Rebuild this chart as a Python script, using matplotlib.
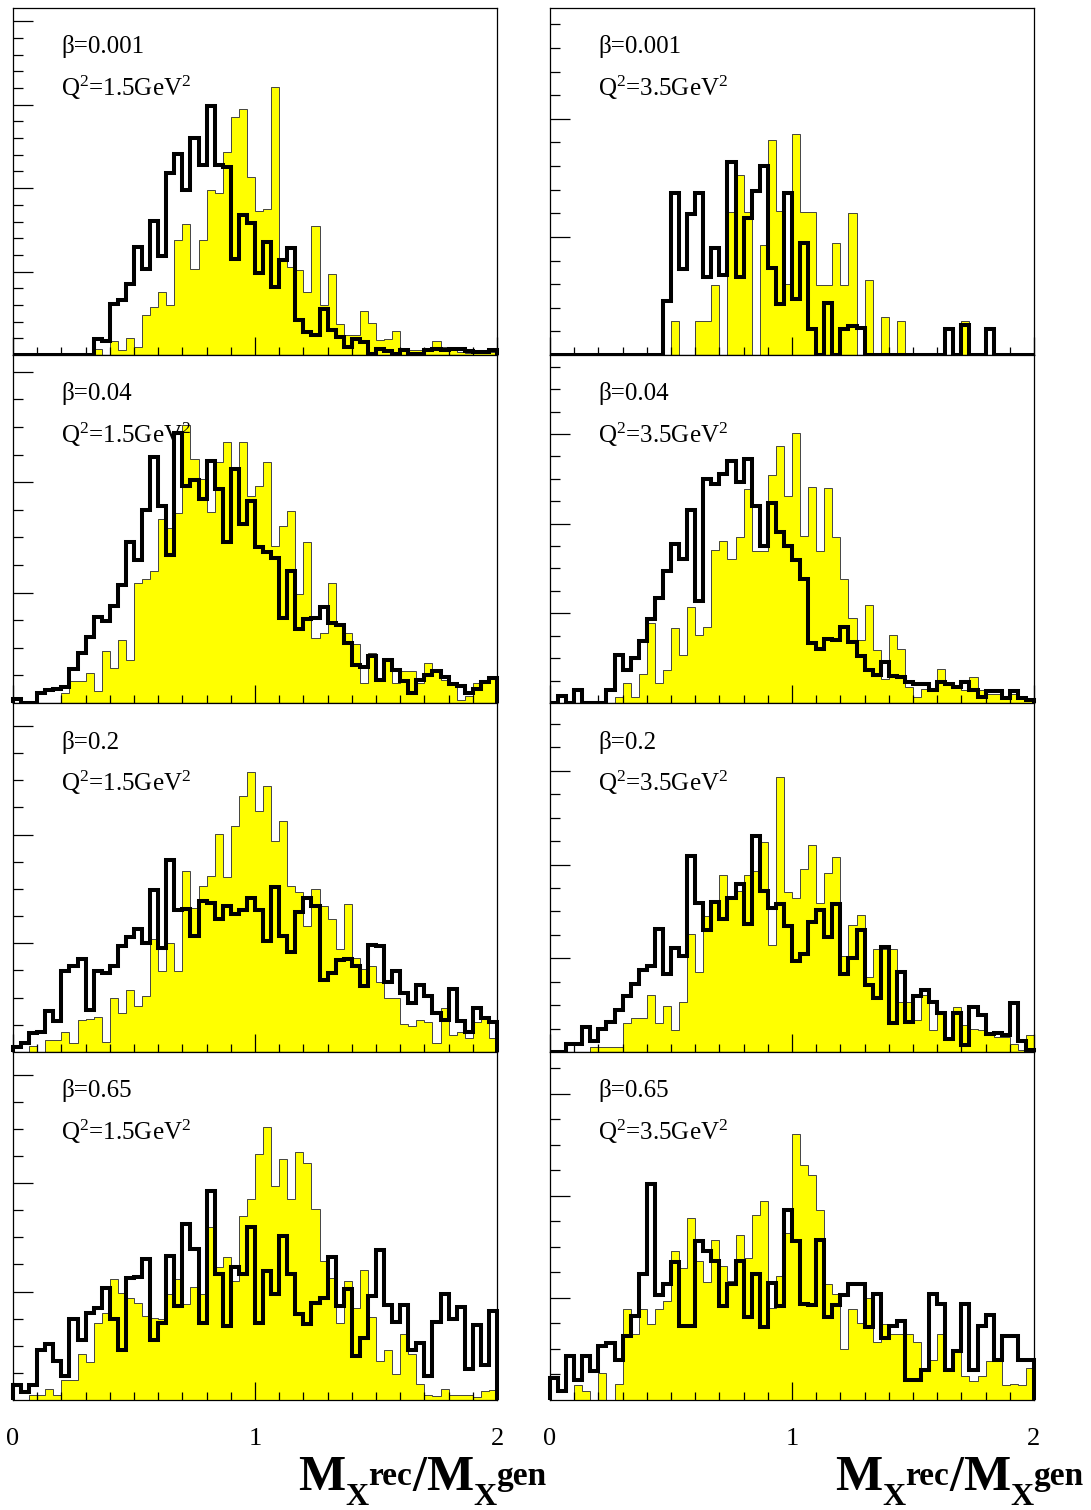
import numpy as np
import matplotlib.pyplot as plt

plt.rcParams['font.family'] = ['Liberation Serif', 'DejaVu Serif']
plt.rcParams['mathtext.fontset'] = 'custom'
plt.rcParams['mathtext.rm'] = 'Liberation Serif'
plt.rcParams['mathtext.it'] = 'Liberation Serif:italic'
plt.rcParams['mathtext.bf'] = 'Liberation Serif:bold'

# 60 bins of M_X(rec)/M_X(gen) between 0 and 2
edges = np.linspace(0, 2, 61)

betas = ['0.001', '0.04', '0.2', '0.65']
q2_values = ['1.5', '3.5']

# filled (yellow) and outlined (black) histograms, arbitrary units
yel_b0001_q15 = [0, 0, 0, 0, 0, 0, 0, 0, 0, 0,
                 1.9, 0, 4.2, 1.4, 5.2, 2.4, 11.9, 14.4, 18.9, 14.9,
                 34.6, 39.2, 25.7, 34.4, 49.6, 48.6, 60.9, 71.2, 73.6, 53.4,
                 43.1, 43.7, 80.4, 28.9, 26.4, 25.4, 18.9, 38.6, 14.9, 24.4,
                 9.2, 5.9, 6.1, 13.2, 9.6, 4.6, 4.9, 7.2, 1.9, 1.4,
                 1.4, 1.9, 4.2, 2.4, 1.4, 0.9, 0.6, 0.6, 0.6, 0.9]
blk_b0001_q15 = [0, 0, 0, 0, 0, 0, 0, 0, 0, 0,
                 4.9, 4.2, 15.4, 16.6, 21.2, 32.4, 25.9, 40.2, 29.6, 54.4,
                 60.1, 49.6, 65.1, 56.9, 74.6, 56.9, 56.4, 28.9, 41.9, 39.6,
                 24.6, 33.9, 20.4, 28.6, 32.2, 10.4, 6.9, 5.9, 13.9, 7.4,
                 5.4, 2.4, 4.9, 3.9, 0.4, 1.9, 1.2, 0.4, 1.4, 0.4,
                 0.4, 1.4, 1.9, 1.4, 1.9, 1.9, 1.2, 0.9, 0.9, 1.6]

yel_b0001_q35 = [0, 0, 0, 0, 0, 0, 0, 0, 0, 0,
                 0, 0, 0, 0, 0, 10.2, 0, 0, 10.2, 10.2,
                 21.0, 0, 43.0, 54.0, 43.0, 0, 33.0, 64.4, 43.2, 21.2,
                 66.2, 43.0, 43.0, 21.0, 21.0, 33.7, 21.0, 42.7, 0, 22.4,
                 0, 11.4, 0, 10.2, 0, 0, 0, 0, 0, 0,
                 0, 10.2, 0, 0, 0, 0, 0, 0, 0, 0]
blk_b0001_q35 = [0, 0, 0, 0, 0, 0, 0, 0, 0, 0,
                 0, 0, 0, 0, 16.2, 48.5, 25.7, 42.2, 48.5, 23.4,
                 32.2, 24.0, 57.9, 23.4, 41.0, 49.2, 56.5, 26.0, 15.4, 48.7,
                 16.7, 33.7, 7.7, 0, 15.7, 0, 7.7, 8.7, 8.2, 0,
                 0, 0, 0, 0, 0, 0, 0, 0, 0, 7.7,
                 0, 9.0, 0, 0, 7.7, 0, 0, 0, 0, 0]

yel_b004_q15 = [0, 0, 0, 0, 0, 0, 3.0, 6.5, 6.5, 9.0,
                3.5, 15.5, 10.5, 18.8, 13.0, 36.0, 37.0, 39.5, 55.0, 52.2,
                56.7, 83.0, 73.0, 67.0, 57.2, 72.0, 78.0, 70.0, 78.0, 62.0,
                65.0, 72.0, 47.0, 53.0, 57.5, 32.5, 48.0, 19.5, 21.0, 36.0,
                24.0, 21.0, 17.5, 6.0, 15.0, 7.0, 13.5, 6.0, 9.5, 9.5,
                6.0, 12.0, 10.0, 7.0, 6.0, 1.0, 2.0, 6.0, 6.5, 7.5]
blk_b004_q15 = [1.2, 0, 0, 3.0, 4.0, 4.2, 4.8, 10.2, 15.0, 19.8,
                25.7, 24.5, 29.0, 35.3, 48.0, 42.8, 57.8, 73.4, 59.0, 44.2,
                80.7, 64.8, 66.5, 61.0, 72.2, 64.0, 48.2, 70.0, 53.5, 60.5,
                46.5, 45.0, 43.2, 25.5, 39.5, 22.0, 25.2, 25.5, 28.8, 24.0,
                23.3, 18.0, 11.5, 10.8, 14.0, 7.0, 13.0, 10.0, 6.5, 3.0,
                7.0, 8.5, 9.5, 7.8, 5.7, 5.0, 3.0, 4.2, 6.3, 7.5]

yel_b004_q35 = [0, 0, 0, 0, 0, 0, 0, 0, 1.8, 6.0,
                1.8, 8.8, 23.8, 6.0, 10.0, 22.3, 14.3, 28.6, 20.3, 22.8,
                45.8, 48.3, 43.0, 49.6, 64.0, 45.3, 45.3, 68.0, 76.8, 62.0,
                80.6, 49.8, 64.6, 45.3, 64.3, 49.6, 37.0, 25.3, 18.8, 29.3,
                15.8, 7.3, 20.3, 16.0, 4.8, 1.8, 4.3, 4.3, 10.3, 5.8,
                5.3, 3.8, 7.8, 3.8, 2.8, 2.8, 1.8, 2.8, 1.8, 1.3]
blk_b004_q35 = [0, 2.0, 0, 4.0, 0, 0, 0, 4.0, 14.3, 10.0,
                13.3, 18.5, 25.0, 31.3, 39.3, 47.5, 43.0, 57.8, 30.6, 66.8,
                65.3, 68.3, 72.3, 66.0, 72.8, 59.0, 46.8, 59.8, 51.0, 46.8,
                42.6, 37.0, 18.0, 16.0, 19.0, 18.8, 22.8, 18.3, 14.0, 9.8,
                8.3, 12.3, 8.0, 7.8, 6.3, 5.8, 5.8, 4.0, 6.3, 5.8,
                4.8, 6.3, 4.0, 1.8, 3.6, 3.6, 1.6, 3.6, 1.6, 0.8]

yel_b02_q15 = [0, 0, 1.8, 0, 3.6, 3.6, 6.1, 2.6, 9.6, 9.8,
               10.4, 3.1, 16.1, 11.6, 18.4, 13.8, 16.8, 33.8, 24.1, 32.6,
               24.1, 53.8, 42.8, 49.6, 52.4, 65.1, 52.1, 67.4, 76.4, 83.4,
               71.8, 79.2, 62.8, 68.8, 49.4, 47.8, 37.6, 48.6, 43.4, 39.6,
               30.6, 44.1, 28.1, 24.8, 25.6, 20.8, 16.1, 16.1, 8.4, 7.6,
               9.6, 8.8, 2.8, 13.1, 5.1, 6.1, 4.1, 8.8, 9.8, 4.1]
blk_b02_q15 = [1.6, 2.6, 5.6, 5.9, 12.1, 9.1, 24.1, 25.6, 27.8, 12.6,
               24.1, 23.6, 25.6, 31.6, 34.4, 36.6, 32.6, 48.4, 31.1, 57.1,
               42.4, 42.6, 34.6, 45.1, 44.4, 39.6, 43.4, 41.1, 42.4, 45.9,
               42.4, 33.1, 49.1, 34.6, 29.9, 41.6, 45.9, 43.6, 21.6, 23.6,
               27.4, 27.8, 25.6, 19.8, 31.8, 31.6, 20.8, 24.1, 17.6, 14.6,
               20.1, 16.8, 11.6, 9.6, 18.8, 9.1, 6.1, 13.1, 10.1, 8.8]

yel_b02_q35 = [0, 0, 0, 0, 0, 1.5, 1.5, 1.5, 1.5, 8.5,
               10.0, 10.0, 17.0, 8.5, 13.7, 6.5, 15.0, 35.3, 23.7, 40.5,
               45.0, 52.8, 46.5, 48.0, 52.8, 54.0, 62.7, 32.0, 81.8, 47.8,
               45.8, 54.5, 61.7, 44.3, 53.3, 58.0, 28.5, 37.7, 40.8, 22.3,
               30.7, 30.7, 30.7, 15.0, 15.0, 9.5, 17.0, 6.5, 11.5, 3.5,
               13.3, 8.0, 7.0, 6.5, 5.0, 4.5, 4.5, 2.5, 0.5, 5.0]
blk_b02_q35 = [0, 0, 2.3, 2.3, 7.5, 3.3, 7.0, 9.0, 12.5, 16.7,
               20.3, 24.5, 25.7, 36.7, 23.3, 31.0, 28.7, 58.5, 44.3, 36.5,
               44.7, 39.7, 46.0, 50.0, 38.0, 64.3, 48.0, 43.0, 44.0, 37.5,
               27.0, 29.3, 38.7, 42.3, 34.3, 44.0, 23.3, 28.0, 36.5, 20.0,
               16.0, 31.3, 8.7, 23.7, 9.0, 16.7, 18.5, 15.0, 11.7, 4.0,
               11.7, 2.0, 13.3, 11.0, 5.5, 5.7, 5.0, 14.7, 3.3, 0.5]

yel_b065_q15 = [0, 0, 1.4, 1.4, 3.4, 1.6, 6.1, 6.1, 13.8, 11.4,
                23.1, 26.1, 36.1, 32.1, 30.6, 29.1, 25.1, 24.6, 24.1, 31.8,
                36.1, 28.8, 33.8, 31.6, 51.6, 39.6, 42.6, 35.6, 55.1, 60.1,
                73.4, 81.6, 64.1, 72.1, 60.1, 74.1, 70.8, 57.1, 41.6, 36.6,
                23.1, 35.6, 27.6, 38.8, 24.8, 11.6, 14.8, 7.8, 19.8, 13.6,
                4.8, 1.4, 1.1, 3.4, 1.4, 1.4, 1.4, 0.8, 2.6, 3.1]
blk_b065_q15 = [4.4, 2.4, 4.4, 14.8, 16.6, 11.8, 7.1, 24.1, 17.8, 26.1,
                27.6, 33.6, 24.1, 14.8, 36.6, 36.8, 42.1, 17.8, 23.1, 43.1,
                28.1, 52.6, 45.1, 23.1, 62.4, 37.6, 22.1, 39.8, 37.6, 51.6,
                23.1, 38.6, 31.8, 49.1, 37.6, 25.6, 22.8, 29.1, 30.4, 42.8,
                28.1, 33.1, 13.1, 18.4, 31.1, 44.8, 28.4, 23.4, 28.4, 14.8,
                17.1, 7.1, 23.4, 31.6, 24.1, 27.8, 9.4, 22.4, 10.6, 26.6]

yel_b065_q35 = [0, 0, 0, 4.6, 2.6, 0, 8.1, 0, 4.8, 27.1,
                19.6, 27.1, 22.6, 27.1, 29.6, 44.4, 39.4, 54.4, 41.6, 35.4,
                47.8, 40.1, 35.6, 49.4, 42.4, 55.4, 59.4, 27.6, 37.1, 49.8,
                79.6, 70.1, 67.1, 56.8, 34.6, 31.6, 15.1, 27.1, 23.1, 30.4,
                17.4, 22.6, 19.6, 19.6, 19.6, 17.4, 8.6, 12.1, 19.6, 9.1,
                14.8, 7.1, 5.6, 7.1, 11.8, 11.6, 4.6, 4.8, 4.6, 9.6]
blk_b065_q35 = [6.6, 2.8, 13.1, 6.1, 13.1, 8.8, 16.1, 17.1, 12.1, 19.1,
                25.1, 37.8, 64.6, 31.4, 34.8, 41.1, 22.1, 22.1, 47.6, 44.4,
                41.6, 28.1, 34.6, 41.6, 24.8, 37.8, 21.8, 35.1, 28.1, 56.8,
                47.6, 28.6, 28.4, 47.8, 24.8, 28.4, 31.4, 34.8, 34.8, 21.8,
                31.6, 18.6, 22.1, 23.6, 6.1, 6.1, 9.1, 31.6, 28.6, 9.1,
                14.6, 28.6, 9.1, 22.1, 25.4, 12.1, 19.1, 19.1, 12.1, 12.1]

# y tick step (minor) and number of minor steps per major, per panel
ytick_minor = [[5.0, 7.08], [8.25, 6.7], [8.1, 6.98], [8.1, 7.63]]
ytick_nper = [[5, 5], [4, 4], [4, 4], [4, 4]]

panels = [[(yel_b0001_q15, blk_b0001_q15), (yel_b0001_q35, blk_b0001_q35)],
          [(yel_b004_q15, blk_b004_q15), (yel_b004_q35, blk_b004_q35)],
          [(yel_b02_q15, blk_b02_q15), (yel_b02_q35, blk_b02_q35)],
          [(yel_b065_q15, blk_b065_q15), (yel_b065_q35, blk_b065_q35)]]

# axis title pieces: text, font size (pt), vertical shift (px, down is positive)
title_parts = [('M', 36, 0), ('X', 23, 15), ('rec', 24, -5), ('/', 36, 0),
               ('M', 36, 0), ('X', 23, 15), ('gen', 24, -5)]

W, H = 1091, 1510
fig = plt.figure(figsize=(W / 100, H / 100), dpi=100)

col_left = [13, 550]
col_width = 484
row_top = [8, 355, 703, 1052]
row_height = [347, 348, 349, 348]
ymax = 104

for r in range(4):
    for c in range(2):
        ax = fig.add_axes([col_left[c] / W, 1 - (row_top[r] + row_height[r]) / H,
                           col_width / W, row_height[r] / H])
        yel, blk = panels[r][c]
        ax.stairs(yel, edges, fill=True, facecolor='#ffff00', edgecolor='none', zorder=1)
        ax.stairs(yel, edges, fill=False, edgecolor='#444444', linewidth=0.7, zorder=1.5)
        ax.stairs(blk, edges, fill=False, edgecolor='black', linewidth=2.9,
                  zorder=3, clip_on=False)
        ax.set_xlim(0, 2)
        ax.set_ylim(0, ymax)

        step = ytick_minor[r][c]
        nper = ytick_nper[r][c]
        ax.set_yticks(np.arange(step, ymax, step), minor=True)
        ax.set_yticks(np.arange(step * nper, ymax, step * nper))
        ax.set_xticks([0, 1, 2])
        ax.set_xticks(np.arange(0.1, 2.0, 0.1), minor=True)
        ax.tick_params(axis='y', which='major', direction='in', length=14.5,
                       width=0.9, labelleft=False)
        ax.tick_params(axis='y', which='minor', direction='in', length=7.2,
                       width=0.9)
        ax.tick_params(axis='x', which='major', direction='in', length=13,
                       width=0.9, pad=20, labelsize=19)
        ax.tick_params(axis='x', which='minor', direction='in', length=6,
                       width=0.9)
        if r < 3:
            ax.tick_params(axis='x', labelbottom=False)
        else:
            ax.set_xticklabels(['0', '1', '2'])
        for s in ax.spines.values():
            s.set_linewidth(0.9)

        ax.text(0.100, 0.888, '\u03b2=' + betas[r], transform=ax.transAxes,
                fontsize=18, ha='left', va='center')
        ax.text(0.100, 0.770, 'Q$^{2}$=' + q2_values[c] + 'GeV$^{2}$',
                transform=ax.transAxes, fontsize=18, ha='left', va='center')

# bold axis title under each column, built piece by piece
renderer = fig.canvas.get_renderer()
for x0 in [298, 835]:
    x = x0
    for txt, size, dy in title_parts:
        t = fig.text(x / W, 1 - (1490 + dy) / H, txt, fontsize=size,
                     fontweight='bold', ha='left', va='baseline')
        x = t.get_window_extent(renderer).x1

fig.savefig('out.png', dpi=100)
